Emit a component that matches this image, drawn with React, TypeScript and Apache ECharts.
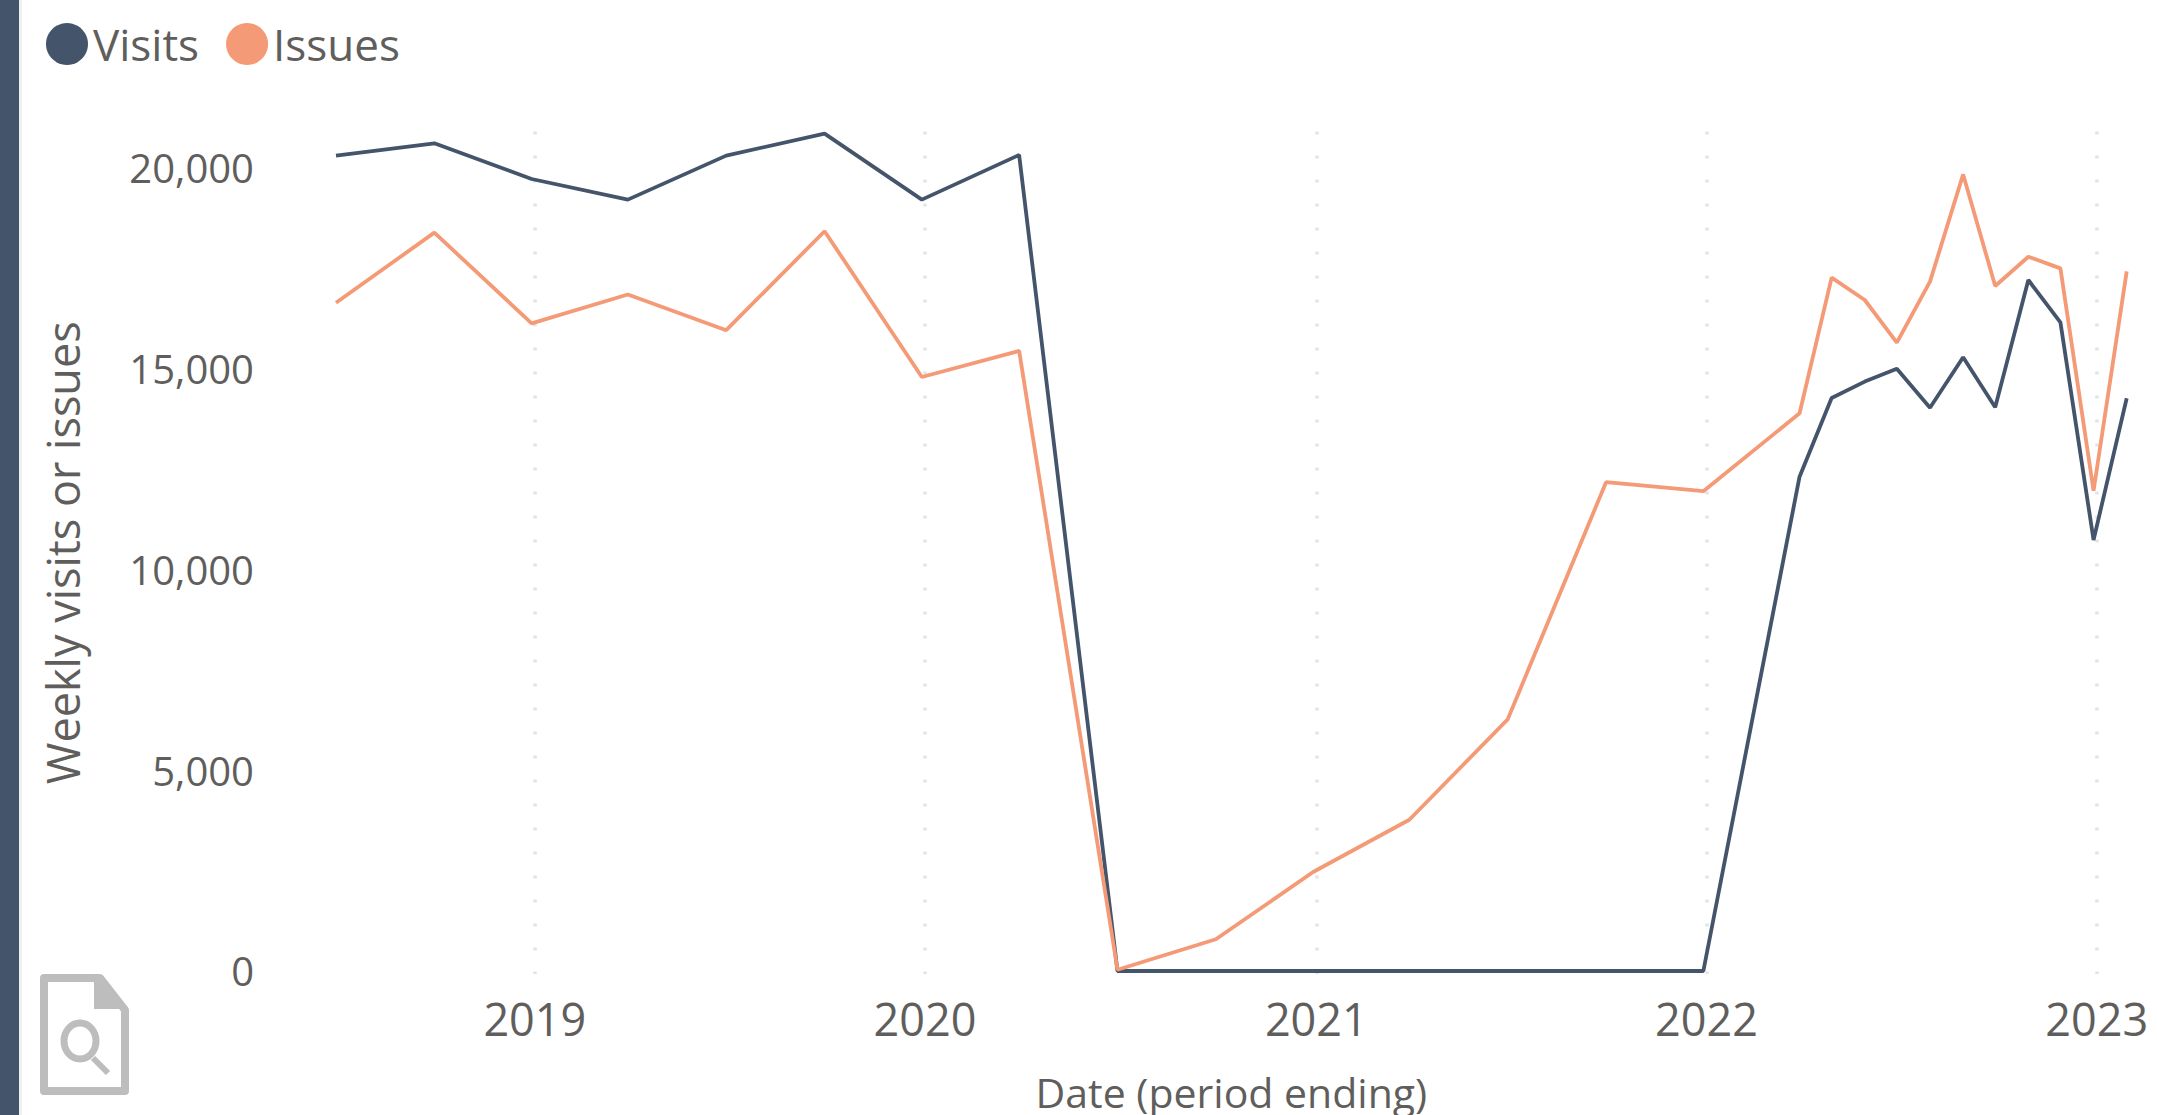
import React, { useEffect, useRef } from "react";
import * as echarts from "echarts";

const dates = ["2018-06-29","2018-09-29","2018-12-29","2019-03-29","2019-06-29","2019-09-29","2019-12-29","2020-03-29","2020-06-29","2020-09-29","2020-12-29","2021-03-29","2021-06-29","2021-09-29","2021-12-29","2022-03-29","2022-04-28","2022-05-29","2022-06-28","2022-07-29","2022-08-29","2022-09-28","2022-10-29","2022-11-28","2022-12-29","2023-01-29"];
const visits = [20308,20616,19726,19212,20308,20856,19212,20325,0,0,0,0,0,0,0,12311,14271,14680,15000,14030,15285,14040,17210,16155,10735,14264];
const issues = [16644,18390,16130,16850,15960,18425,14795,15445,30,790,2465,3767,6267,12175,11950,13890,17270,16712,15650,17170,19840,17060,17790,17500,11960,17425];
const yearTicks = ["2019-01-01","2020-01-01","2021-01-01","2022-01-01","2023-01-01"];
const valueTicks = [0,5000,10000,15000,20000];
const FONT = '"Open Sans", sans-serif';
const TEXT = "#605E5C";
const GREY = "#BDBDBD";

const ts = (d: string) => new Date(d + "T00:00:00").getTime();

export default function App() {
  const ref = useRef<HTMLDivElement>(null);
  useEffect(() => {
    const chart = echarts.init(ref.current!, undefined, { renderer: "svg" });
    chart.setOption({
      animation: false,
      backgroundColor: "#fff",
      color: ["#44546A", "#F49A76"],
      legend: {
        left: 41, top: 17, itemWidth: 42, itemHeight: 42, itemGap: 27, icon: "circle",
        textStyle: { fontFamily: FONT, fontSize: 44, color: TEXT },
        data: ["Visits", "Issues"],
      },
      grid: { left: 336, right: 30.3, top: 131.5, bottom: 141, containLabel: false, outerBoundsMode: "none" },
      xAxis: {
        type: "value",
        scale: true,
        min: ts(dates[0]),
        max: ts(dates[dates.length - 1]),
        name: "Date (period ending)",
        nameLocation: "middle",
        nameGap: 96,
        nameTextStyle: { fontFamily: FONT, fontSize: 41, lineHeight: 44, color: TEXT },
        axisLine: { show: false },
        axisTick: { show: false, customValues: yearTicks.map(ts) },
        axisLabel: {
          customValues: yearTicks.map(ts),
          formatter: (v: number) => String(new Date(v).getFullYear()),
          fontFamily: FONT, fontSize: 45, color: TEXT, margin: 22, hideOverlap: false,
        },
        splitLine: { show: true, lineStyle: { color: "#E4E4E4", width: 3.5, type: [3, 21] } },
      },
      yAxis: {
        type: "value",
        min: -75,
        max: 20909,
        name: "Weekly visits or issues",
        nameLocation: "middle",
        nameGap: 251,
        nameTextStyle: { fontFamily: FONT, fontSize: 45, color: TEXT },
        axisLine: { show: false },
        axisTick: { show: false, customValues: valueTicks },
        axisLabel: {
          customValues: valueTicks,
          formatter: (v: number) => v.toLocaleString("en-US"),
          fontFamily: FONT, fontSize: 40, color: TEXT, margin: 82,
        },
        splitLine: { show: false },
      },
      series: [
        { name: "Visits", type: "line", showSymbol: false, clip: false, lineStyle: { width: 3.8 }, data: dates.map((d, i) => [ts(d), visits[i]]) },
        { name: "Issues", type: "line", showSymbol: false, clip: false, lineStyle: { width: 3.8 }, data: dates.map((d, i) => [ts(d), issues[i]]) },
      ],
      graphic: [
        { type: "rect", shape: { x: 19, y: 0, width: 3, height: 1115 }, style: { fill: "#EEF0F4" } },
        { type: "rect", shape: { x: 0, y: 0, width: 19, height: 1115 }, style: { fill: "#44546A" } },
        { type: "polygon", shape: { points: [[44,978],[100,978],[125,1010],[125,1091],[44,1091]] }, style: { fill: "#fff", stroke: GREY, lineWidth: 8, lineJoin: "round" } },
        { type: "polygon", shape: { points: [[94,980],[102,980],[125,1009],[94,1009]] }, style: { fill: GREY } },
        { type: "ellipse", shape: { cx: 80, cy: 1041, rx: 16, ry: 18 }, style: { fill: "none", stroke: GREY, lineWidth: 7 } },
        { type: "line", shape: { x1: 93, y1: 1058, x2: 108, y2: 1073 }, style: { stroke: GREY, lineWidth: 6 } },
      ],
    });
    return () => chart.dispose();
  }, []);
  return <div ref={ref} style={{ position: "absolute", left: 0, top: 0, width: 2157, height: 1115 }} />;
}
